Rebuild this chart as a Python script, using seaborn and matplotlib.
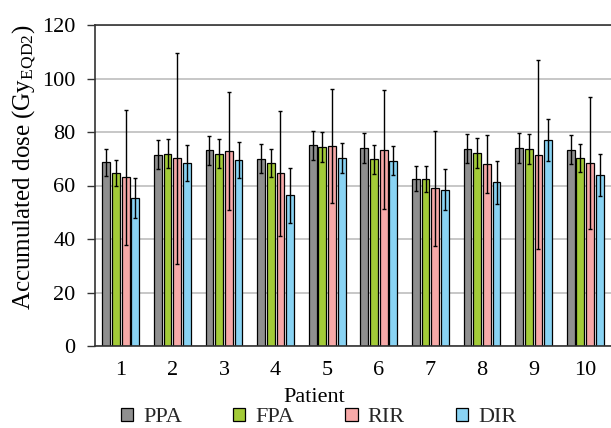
import numpy as np
import pandas as pd
import matplotlib
matplotlib.use("Agg")
import matplotlib.pyplot as plt
import seaborn as sns

patients = ["1", "2", "3", "4", "5", "6", "7", "8", "9", "10"]
methods = ["PPA", "FPA", "RIR", "DIR"]

ppa_mean = [68.7, 71.5, 73.1, 70.0, 75.0, 74.0, 62.6, 73.8, 74.1, 73.3]
fpa_mean = [64.7, 71.8, 71.8, 68.4, 74.4, 69.8, 62.4, 72.1, 73.6, 70.2]
rir_mean = [63.1, 70.2, 72.9, 64.5, 74.6, 73.4, 58.9, 67.9, 71.5, 68.4]
dir_mean = [55.3, 68.5, 69.5, 56.3, 70.3, 69.3, 58.4, 61.2, 76.9, 63.9]

ppa_sd = [5.1, 5.4, 5.4, 5.4, 5.5, 5.6, 4.7, 5.5, 5.6, 5.4]
fpa_sd = [4.8, 5.4, 5.4, 5.1, 5.6, 5.4, 4.8, 5.5, 5.6, 5.2]
rir_sd = [25.2, 39.4, 22.2, 23.4, 21.3, 22.2, 21.4, 10.8, 35.3, 24.8]
dir_sd = [7.4, 6.8, 6.6, 10.2, 5.7, 5.5, 7.6, 8.0, 7.9, 8.0]

colors = ["#8f8f8f", "#a3cb38", "#f7a9a8", "#89d3f3"]

means = [ppa_mean, fpa_mean, rir_mean, dir_mean]
sds = [ppa_sd, fpa_sd, rir_sd, dir_sd]

df = pd.DataFrame({
    "Patient": np.tile(patients, len(methods)),
    "Method": np.repeat(methods, len(patients)),
    "Dose": np.concatenate(means),
})

sns.set_theme(style="white")
plt.rcParams["font.family"] = ["Liberation Serif", "DejaVu Serif"]
plt.rcParams["mathtext.default"] = "regular"

FS = 16

fig = plt.figure(figsize=(6.11, 4.28), dpi=100)
ax = fig.add_axes([95 / 611, 1 - 346 / 428, 516 / 611, 321 / 428])

sns.barplot(data=df, x="Patient", y="Dose", hue="Method", order=patients,
            hue_order=methods, palette=colors, errorbar=None, width=0.75,
            gap=0.2, edgecolor="black", linewidth=0.9, saturation=1, ax=ax,
            zorder=2)

for container, sd in zip(ax.containers, sds):
    xs = [p.get_x() + p.get_width() / 2 for p in container]
    ys = [p.get_height() for p in container]
    ax.errorbar(xs, ys, yerr=sd, fmt="none", ecolor="black", elinewidth=1.0,
                capsize=1.6, capthick=1.0, zorder=3)

ax.set_ylim(0, 120)
ax.set_yticks(np.arange(0, 121, 20))
ax.set_xlim(-0.5, 9.5)
ax.yaxis.grid(True, color="#bdbdbd", linewidth=1.2, zorder=0)
ax.set_axisbelow(True)

for s in ["left", "bottom", "top"]:
    ax.spines[s].set_color("#333333")
    ax.spines[s].set_linewidth(1.2)
ax.spines["right"].set_visible(False)

ax.tick_params(axis="y", length=6, width=1, color="#333333", pad=8,
               labelsize=FS, left=True, labelcolor="black")
ax.tick_params(axis="x", length=0, pad=11, labelsize=FS, labelcolor="black")

ax.set_xlabel("Patient", fontsize=FS, color="black")
ax.xaxis.set_label_coords(0.424, -0.13)
ax.set_ylabel("Accumulated dose (Gy$_{EQD2}$)", fontsize=18, color="black")
ax.yaxis.set_label_coords(-0.11, 0.555)

handles, labels = ax.get_legend_handles_labels()
ax.get_legend().remove()
fig.legend(handles, labels, loc="lower left", bbox_to_anchor=(121 / 611, 0.002),
           ncol=4, frameon=False, fontsize=FS, handlelength=0.55,
           handleheight=0.55, handletextpad=0.45, columnspacing=2.3,
           borderaxespad=0, borderpad=0)

fig.savefig("out.png", dpi=100)
